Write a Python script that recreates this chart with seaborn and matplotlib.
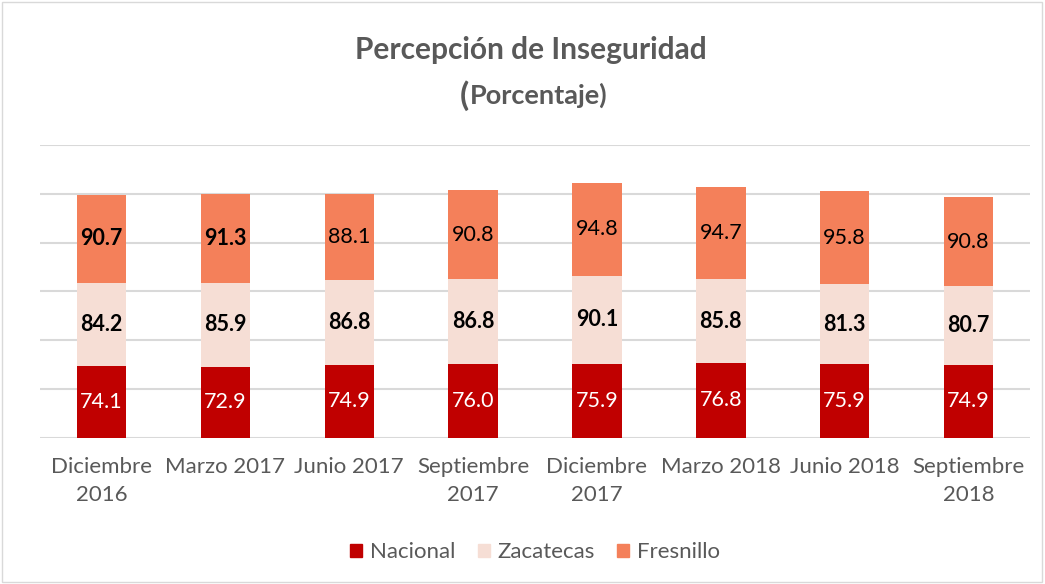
import numpy as np
import pandas as pd
import matplotlib
matplotlib.use("Agg")
import matplotlib.pyplot as plt
import seaborn as sns
from matplotlib.patches import Patch, Rectangle

# ----- data -----
periodos = ["Diciembre\n2016", "Marzo 2017", "Junio 2017", "Septiembre\n2017",
            "Diciembre\n2017", "Marzo 2018", "Junio 2018", "Septiembre\n2018"]
nacional = [74.1, 72.9, 74.9, 76.0, 75.9, 76.8, 75.9, 74.9]
zacatecas = [84.2, 85.9, 86.8, 86.8, 90.1, 85.8, 81.3, 80.7]
fresnillo = [90.7, 91.3, 88.1, 90.8, 94.8, 94.7, 95.8, 90.8]
fresnillo_bold = [True, True, False, False, False, False, False, False]

C_NAC = "#C00000"
C_ZAC = "#F6DED5"
C_FRE = "#F4805A"
GRID = "#D9D9D9"
TXT = "#595959"

sns.set_style("white")
plt.rcParams["font.family"] = ["Lato", "DejaVu Sans"]

df = pd.DataFrame({"periodo": periodos, "nac": nacional,
                   "zac": zacatecas, "fre": fresnillo})
df["nz"] = df["nac"] + df["zac"]
df["total"] = df["nz"] + df["fre"]

fig = plt.figure(figsize=(10.45, 5.84), dpi=100)
ax = fig.add_axes([0.038, 0.25, 0.948, 0.502])

# stacked bars: draw cumulative totals back to front
for col, c in [("total", C_FRE), ("nz", C_ZAC), ("nac", C_NAC)]:
    sns.barplot(data=df, x="periodo", y=col, color=c, width=0.4,
                saturation=1, linewidth=0, ax=ax, zorder=3)

# ----- labels -----
for i in range(len(periodos)):
    ax.text(i, nacional[i] / 2, f"{nacional[i]:.1f}", ha="center", va="center",
            color="white", fontsize=15.5, zorder=4)
    ax.text(i, nacional[i] + zacatecas[i] / 2, f"{zacatecas[i]:.1f}",
            ha="center", va="center", color="black", fontsize=15.5,
            fontweight="bold", zorder=4)
    ax.text(i, nacional[i] + zacatecas[i] + fresnillo[i] / 2, f"{fresnillo[i]:.1f}",
            ha="center", va="center", color="black", fontsize=15.5,
            fontweight="bold" if fresnillo_bold[i] else "normal", zorder=4)

ax.set_ylim(0, 300)
ax.set_xlim(-0.5, 7.5)
ax.set_yticks(np.arange(0, 301, 50))
ax.set_yticklabels([])
ax.tick_params(axis="y", length=0)
ax.tick_params(axis="x", length=0, labelsize=16, labelcolor=TXT, pad=14)
for lbl in ax.get_xticklabels():
    lbl.set_linespacing(1.45)
ax.set_xlabel("")
ax.set_ylabel("")
ax.grid(axis="y", color=GRID, linewidth=1.5, zorder=0)
ax.set_axisbelow(True)
for s in ax.spines.values():
    s.set_visible(False)

# ----- title -----
fig.text(0.508, 0.915, "Percepción de Inseguridad", ha="center", va="center",
         fontsize=21.5, fontweight="bold", color=TXT)
fig.text(0.4445, 0.836, "(", ha="center", va="center",
         fontsize=24, fontweight="bold", color=TXT)
fig.text(0.450, 0.836, "Porcentaje)", ha="left", va="center",
         fontsize=19.5, fontweight="bold", color=TXT)

# ----- legend -----
handles = [Patch(color=C_NAC, label="Nacional"),
           Patch(color=C_ZAC, label="Zacatecas"),
           Patch(color=C_FRE, label="Fresnillo")]
fig.legend(handles=handles, loc="center", bbox_to_anchor=(0.512, 0.054),
           ncol=3, frameon=False, fontsize=16, handlelength=0.55,
           handleheight=0.55, handletextpad=0.35, columnspacing=1.0,
           labelcolor=TXT)

# light chart frame
fig.patches.append(Rectangle((0.002, 0.003), 0.995, 0.994, transform=fig.transFigure,
                             fill=False, edgecolor="#D9D9D9", linewidth=1))

fig.savefig("out.png", dpi=100)
